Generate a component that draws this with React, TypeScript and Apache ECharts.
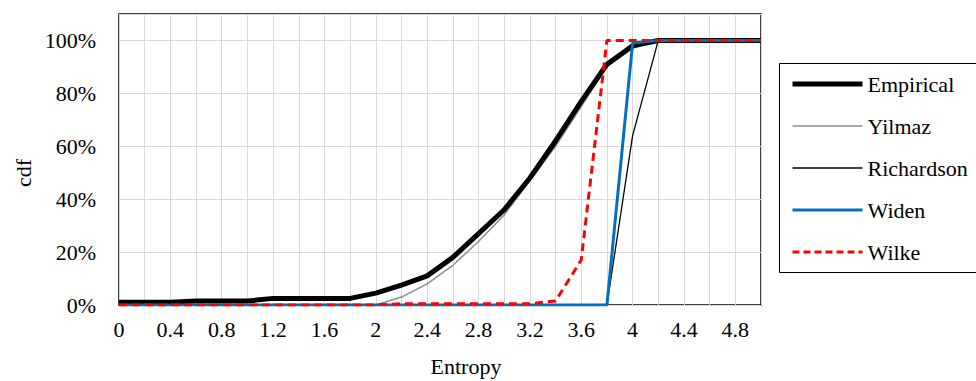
import React, { useEffect, useRef } from "react";
import * as echarts from "echarts";

const xs = [0, 0.2, 0.4, 0.6, 0.8, 1.0, 1.2, 1.4, 1.6, 1.8, 2.0, 2.2, 2.4, 2.6, 2.8, 3.0, 3.2, 3.4, 3.6, 3.8, 4.0, 4.2, 4.4, 4.6, 4.8, 5.0];
const empirical = [0.01, 0.01, 0.01, 0.015, 0.015, 0.015, 0.025, 0.025, 0.025, 0.025, 0.045, 0.075, 0.11, 0.18, 0.27, 0.36, 0.48, 0.62, 0.77, 0.91, 0.98, 1, 1, 1, 1, 1];
const yilmaz = [0, 0, 0, 0, 0, 0, 0, 0, 0, 0, 0, 0.03, 0.08, 0.15, 0.24, 0.34, 0.47, 0.6, 0.75, 0.9, 0.97, 1, 1, 1, 1, 1];
const richardson = [0, 0, 0, 0, 0, 0, 0, 0, 0, 0, 0, 0, 0, 0, 0, 0, 0, 0, 0, 0, 0.64, 1, 1, 1, 1, 1];
const widen = [0, 0, 0, 0, 0, 0, 0, 0, 0, 0, 0, 0, 0, 0, 0, 0, 0, 0, 0, 0, 0.99, 1, 1, 1, 1, 1];
const wilke = [0, 0, 0, 0, 0, 0, 0, 0, 0, 0, 0, 0.005, 0.005, 0.005, 0.005, 0.005, 0.005, 0.015, 0.17, 1, 1, 1, 1, 1, 1, 1];

const FONT = "'Liberation Serif', 'Times New Roman', serif";

const pts = (vals: number[]) => xs.map((x, i) => [x, vals[i]]);

type Spec = { name: string; vals: number[]; color: string; width: number; type: any };
const specs: Spec[] = [
  { name: "Yilmaz", vals: yilmaz, color: "#8c8c8c", width: 1.5, type: "solid" },
  { name: "Richardson", vals: richardson, color: "#000000", width: 1.3, type: "solid" },
  { name: "Empirical", vals: empirical, color: "#000000", width: 5, type: "solid" },
  { name: "Widen", vals: widen, color: "#0070c0", width: 3, type: "solid" },
  { name: "Wilke", vals: wilke, color: "#ff0000", width: 3, type: [8, 5] },
];
const legendOrder = ["Empirical", "Yilmaz", "Richardson", "Widen", "Wilke"];

export default function App() {
  const ref = useRef<HTMLDivElement>(null);
  useEffect(() => {
    if (!ref.current) return;
    const chart = echarts.init(ref.current, undefined, { renderer: "svg" });
    const rich = { t: { color: "#000", fontFamily: FONT, fontSize: 22, fontWeight: "normal" } };
    chart.setOption({
      animation: false,
      textStyle: { fontFamily: FONT },
      grid: {
        left: 119,
        right: 215,
        top: 14,
        bottom: 76,
        show: true,
        borderColor: "#000",
        borderWidth: 1.5,
        backgroundColor: "transparent",
      },
      xAxis: {
        type: "value",
        min: 0,
        max: 5,
        interval: 0.2,
        axisLine: { show: false },
        axisTick: { show: false },
        splitLine: { show: true, lineStyle: { color: "#d9d9d9", width: 1 } },
        axisLabel: {
          margin: 13,
          color: "#000",
          fontFamily: FONT,
          fontSize: 22,
          showMaxLabel: false,
          formatter: (v: number) => {
            const k = Math.round(v * 10);
            if (k % 4 !== 0) return "";
            return String(k / 10);
          },
        },
      },
      yAxis: {
        type: "value",
        min: 0,
        max: 1.1,
        interval: 0.2,
        axisLine: { show: false },
        axisTick: { show: false },
        splitLine: { show: true, lineStyle: { color: "#d9d9d9", width: 1 } },
        axisLabel: {
          margin: 23,
          color: "#000",
          fontFamily: FONT,
          fontSize: 22,
          formatter: (v: number) => (v > 1.01 ? "" : Math.round(v * 100) + "%"),
        },
      },
      legend: {
        orient: "vertical",
        left: 779,
        top: 63,
        padding: [10, 10, 10, 11],
        itemWidth: 70,
        itemHeight: 14,
        itemGap: 20,
        borderWidth: 0,
        itemStyle: { opacity: 0 },
        formatter: "{t|{name}}",
        textStyle: { color: "#000", fontFamily: FONT, fontSize: 22, rich },
        data: legendOrder.map((n) => {
          const s = specs.find((p) => p.name === n)!;
          return {
            name: n,
            itemStyle: { opacity: 0 },
            lineStyle: { color: s.color, width: s.width, type: s.name === "Wilke" ? [7, 4] : s.type },
          };
        }),
      },
      series: specs.map((s) => ({
        name: s.name,
        type: "line",
        data: pts(s.vals),
        symbol: "none",
        showSymbol: false,
        lineStyle: { color: s.color, width: s.width, type: s.type },
        itemStyle: { color: s.color },
      })),
      graphic: [
        {
          type: "polyline",
          shape: { points: [[990, 63.5], [779.5, 63.5], [779.5, 272.5], [990, 272.5]] },
          style: { fill: "none", stroke: "#000", lineWidth: 1 },
          silent: true,
        },
        {
          type: "text",
          x: 23,
          y: 173,
          rotation: Math.PI / 2,
          style: { text: "cdf", font: `22px ${FONT}`, fill: "#000", align: "center", verticalAlign: "middle" },
        },
        {
          type: "text",
          x: 466,
          y: 366,
          style: { text: "Entropy", font: `22px ${FONT}`, fill: "#000", align: "center", verticalAlign: "middle" },
        },
      ],
    });
    return () => chart.dispose();
  }, []);
  return <div ref={ref} style={{ width: 976, height: 381, position: "absolute", left: 0, top: 0 }} />;
}
